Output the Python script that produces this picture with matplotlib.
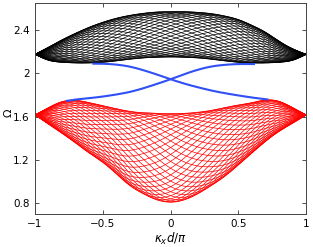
import numpy as np
import matplotlib
matplotlib.use("Agg")
import matplotlib.pyplot as plt

# ---- data ----
kx_grid = [-1.0, -0.9, -0.8, -0.7, -0.6, -0.5, -0.4, -0.3, -0.2, -0.1, 0.0,
           0.1, 0.2, 0.3, 0.4, 0.5, 0.6, 0.7, 0.8, 0.9, 1.0]

upper_band_top = [2.175, 2.242, 2.310, 2.371, 2.426, 2.472, 2.509, 2.536, 2.555, 2.567, 2.570,
                  2.570, 2.564, 2.552, 2.530, 2.497, 2.444, 2.380, 2.297, 2.227, 2.175]
upper_band_bottom = [2.175, 2.120, 2.101, 2.095, 2.095, 2.101, 2.114, 2.129, 2.141, 2.147, 2.150,
                     2.147, 2.141, 2.129, 2.114, 2.101, 2.095, 2.095, 2.101, 2.120, 2.175]

lower_band_top = [1.615, 1.683, 1.738, 1.750, 1.729, 1.701, 1.673, 1.649, 1.637, 1.630, 1.627,
                  1.630, 1.640, 1.658, 1.683, 1.707, 1.729, 1.753, 1.741, 1.683, 1.615]
lower_band_bottom = [1.615, 1.529, 1.443, 1.354, 1.262, 1.176, 1.069, 0.961, 0.885, 0.829, 0.808,
                     0.829, 0.885, 0.961, 1.047, 1.152, 1.262, 1.370, 1.462, 1.538, 1.615]

edge_a_kx = [-0.57, -0.5, -0.4, -0.3, -0.2, -0.1, 0.0, 0.1, 0.2, 0.3, 0.4, 0.5, 0.6, 0.715]
edge_a_om = [2.089, 2.088, 2.080, 2.061, 2.028, 1.988, 1.945, 1.905, 1.871, 1.841, 1.816, 1.795, 1.776, 1.758]

edge_b_kx = [-0.765, -0.7, -0.6, -0.5, -0.4, -0.3, -0.2, -0.1, 0.0, 0.1, 0.2, 0.3, 0.4, 0.5, 0.615]
edge_b_om = [1.745, 1.757, 1.770, 1.785, 1.804, 1.828, 1.862, 1.902, 1.945, 1.991, 2.032, 2.062, 2.078, 2.085, 2.085]

n_lines = 40          # number of bulk lines per band
phase_rate = 2.0      # how fast lines sweep across the band

x_ticks = [-1, -0.5, 0, 0.5, 1]
x_ticklabels = ["\u22121", "\u22120.5", "0", "0.5", "1"]
y_ticks = [0.8, 1.2, 1.6, 2.0, 2.4]
y_ticklabels = ["0.8", "1.2", "1.6", "2", "2.4"]


def natural_spline(xk, yk, x):
    xk = np.asarray(xk, float)
    yk = np.asarray(yk, float)
    n = len(xk)
    h = np.diff(xk)
    A = np.zeros((n, n))
    r = np.zeros(n)
    A[0, 0] = 1
    A[-1, -1] = 1
    for i in range(1, n - 1):
        A[i, i - 1] = h[i - 1]
        A[i, i] = 2 * (h[i - 1] + h[i])
        A[i, i + 1] = h[i]
        r[i] = 6 * ((yk[i + 1] - yk[i]) / h[i] - (yk[i] - yk[i - 1]) / h[i - 1])
    M = np.linalg.solve(A, r)
    idx = np.clip(np.searchsorted(xk, x) - 1, 0, n - 2)
    x0, x1 = xk[idx], xk[idx + 1]
    hh = x1 - x0
    t0 = x1 - x
    t1 = x - x0
    return (M[idx] * t0**3 / (6 * hh) + M[idx + 1] * t1**3 / (6 * hh)
            + (yk[idx] / hh - M[idx] * hh / 6) * t0
            + (yk[idx + 1] / hh - M[idx + 1] * hh / 6) * t1)


fig = plt.figure(figsize=(3.13, 2.47), dpi=100)
ax = fig.add_axes([0.112, 0.134, 0.866, 0.854])

xs = np.linspace(-1, 1, 400)
thetas = 2 * np.pi * (np.arange(n_lines) + 0.5) / n_lines


def draw_band(top, bottom, color):
    U = natural_spline(kx_grid, top, xs)
    L = natural_spline(kx_grid, bottom, xs)
    for th in thetas:
        frac = (1 - np.cos(th + phase_rate * xs)) / 2
        ax.plot(xs, L + (U - L) * frac, color=color, lw=0.5)


draw_band(upper_band_top, upper_band_bottom, "black")
draw_band(lower_band_top, lower_band_bottom, "#ff0000")

blue = "#3050f5"
xa = np.linspace(edge_a_kx[0], edge_a_kx[-1], 200)
ax.plot(xa, natural_spline(edge_a_kx, edge_a_om, xa), color=blue, lw=1.5)
xb = np.linspace(edge_b_kx[0], edge_b_kx[-1], 200)
ax.plot(xb, natural_spline(edge_b_kx, edge_b_om, xb), color=blue, lw=1.5)

ax.set_xlim(-1, 1)
ax.set_ylim(0.7, 2.65)
ax.set_xticks(x_ticks)
ax.set_xticklabels(x_ticklabels)
ax.set_yticks(y_ticks)
ax.set_yticklabels(y_ticklabels)
ax.tick_params(direction="in", length=3, width=0.6, top=True, right=True,
               labelsize=7.5, colors="#333333", labelcolor="black", pad=4)
for s in ax.spines.values():
    s.set_color("#444444")
    s.set_linewidth(0.7)

ax.set_xlabel(r"$\kappa_x d/\pi$", fontsize=8.5, labelpad=1)
ax.set_ylabel("\u03a9", fontsize=8)
ax.yaxis.set_label_coords(-0.08, 0.48)

fig.savefig("out.png", dpi=100)
